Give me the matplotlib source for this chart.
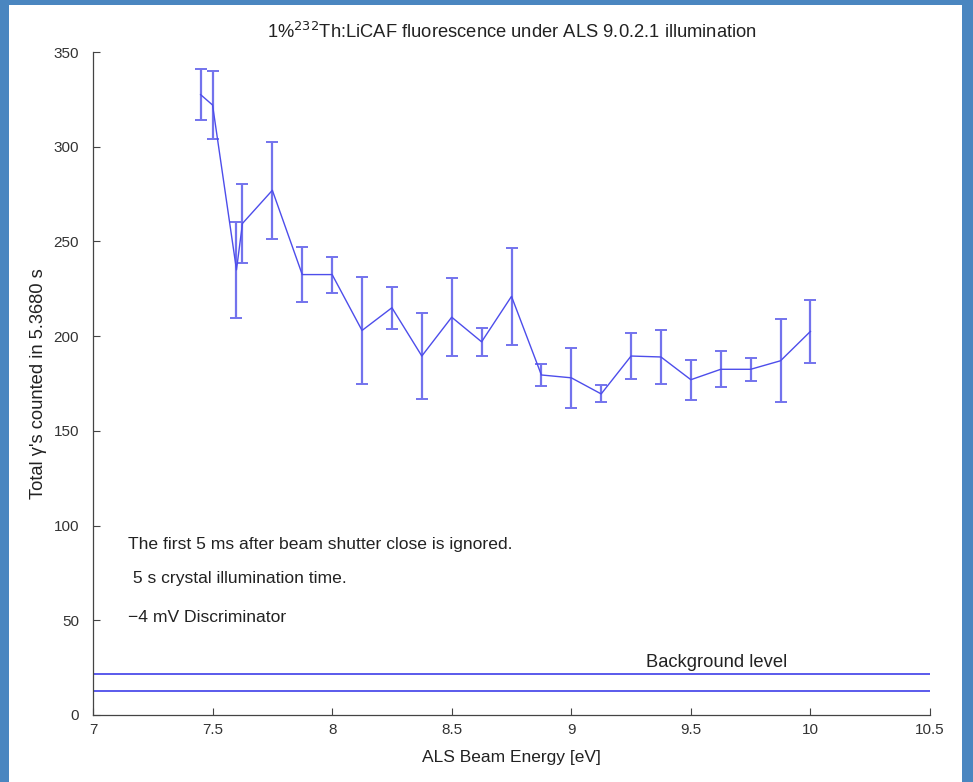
import matplotlib
matplotlib.use("Agg")
import matplotlib.pyplot as plt
from matplotlib.patches import Rectangle

plt.rcParams['font.family'] = ['Liberation Sans', 'DejaVu Sans']

# Beam energy scan (eV), counts and their uncertainties
energy = [7.45, 7.5, 7.6, 7.625, 7.75, 7.875, 8.0, 8.125, 8.25, 8.375, 8.5,
          8.625, 8.75, 8.875, 9.0, 9.125, 9.25, 9.375, 9.5, 9.625, 9.75,
          9.875, 10.0]
counts = [327.5, 322, 235, 259.5, 277, 232.5, 232.5, 203, 215, 189.5, 210,
          197, 221, 179.5, 178, 169.5, 189.5, 189, 177, 182.5, 182.5,
          187, 202.5]
count_err = [13.5, 18, 25.5, 21, 25.5, 14.5, 9.5, 28, 11, 22.5, 20.5,
             7.5, 25.5, 6, 16, 4.5, 12.3, 14.5, 10.5, 9.5, 6,
             22, 16.5]

# Background band limits
bg_upper = 21.6
bg_lower = 12.7

notes = ["The first 5 ms after beam shutter close is ignored.",
         " 5 s crystal illumination time.",
         "\u22124 mV Discriminator"]
note_y = [89.8, 71.8, 51.7]

xticks = [7, 7.5, 8, 8.5, 9, 9.5, 10, 10.5]
yticks = [0, 50, 100, 150, 200, 250, 300, 350]

line_col = (0.30, 0.30, 0.92)
err_col = (0.45, 0.45, 0.93)
text_col = '#222222'

fig = plt.figure(figsize=(9.73, 7.82), dpi=100)
fig.patch.set_facecolor('white')
# framed background
fig.patches.append(Rectangle((0, 0), 1, 1, transform=fig.transFigure,
                             facecolor='#4a86c0', edgecolor='none', zorder=-10))
fig.patches.append(Rectangle((9 / 973, 0), (962 - 9) / 973, 1 - 5 / 782,
                             transform=fig.transFigure, facecolor='white',
                             edgecolor='none', zorder=-9))

ax = fig.add_axes([93 / 973, 67 / 782, (930 - 93) / 973, (715 - 52) / 782])
ax.set_facecolor('none')

ax.errorbar(energy, counts, yerr=count_err, color=line_col, ecolor=err_col,
            elinewidth=1.6, capsize=4, capthick=1.4, linewidth=1.0)

ax.axhline(bg_upper, color=line_col, linewidth=1.3)
ax.axhline(bg_lower, color=line_col, linewidth=1.3)
ax.text(9.606, 27.8, "Background level", ha='center', va='center',
        fontsize=13.2, color=text_col)

for t, yy in zip(notes, note_y):
    ax.text(7.146, yy, t, ha='left', va='center', fontsize=12.6, color=text_col)

ax.set_xlim(7, 10.5)
ax.set_ylim(0, 350)
ax.set_xticks(xticks)
ax.set_xticklabels(["7", "7.5", "8", "8.5", "9", "9.5", "10", "10.5"])
ax.set_yticks(yticks)
ax.tick_params(direction='in', length=5, width=0.8, color='#444444',
               labelsize=11, labelcolor='#333333')
ax.tick_params(axis='y', pad=10)
ax.tick_params(axis='x', pad=6)
for s in ['top', 'right']:
    ax.spines[s].set_visible(False)
for s in ['left', 'bottom']:
    ax.spines[s].set_color('#444444')
    ax.spines[s].set_linewidth(0.9)

ax.set_title("1%$^{232}$Th:LiCAF fluorescence under ALS 9.0.2.1 illumination",
             fontsize=13.2, color=text_col, pad=10)
ax.set_xlabel("ALS Beam Energy [eV]", fontsize=12.5, color=text_col, labelpad=9)
ax.set_ylabel("Total \u03b3's counted in 5.3680 s", fontsize=13.2,
              color=text_col, labelpad=5)

fig.savefig("out.png", dpi=100)
